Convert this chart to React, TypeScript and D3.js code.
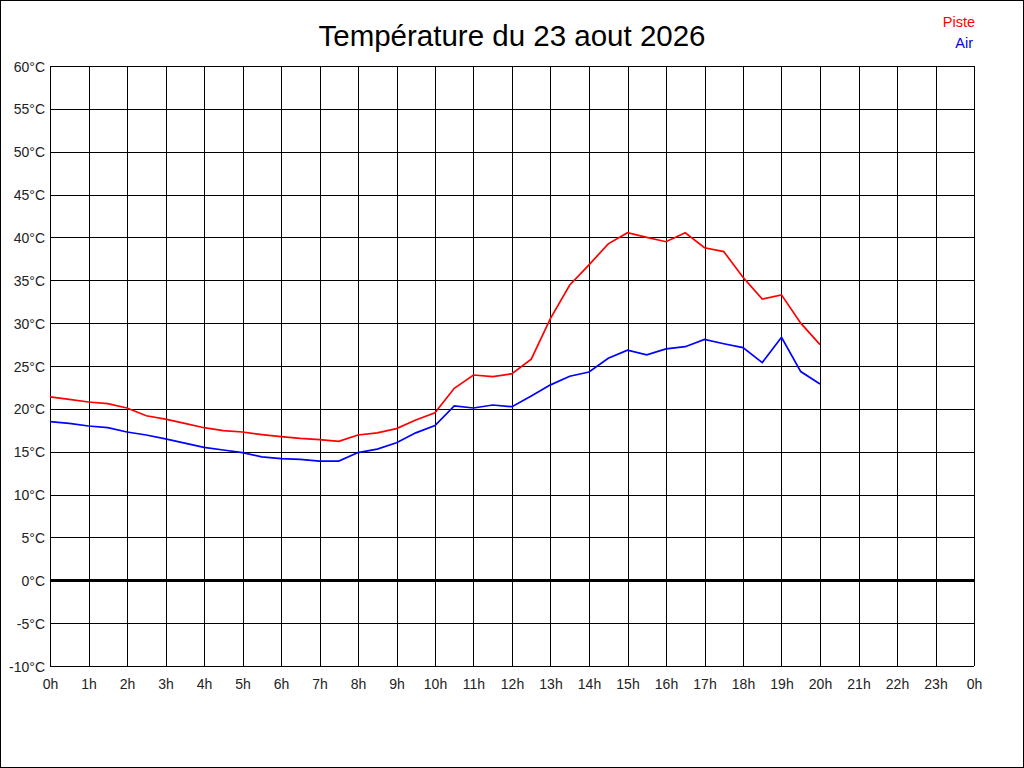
import { useEffect, useRef } from "react";
import * as d3 from "d3";

// half-hour samples from 0h to 20h
const hours = d3.range(0, 20.5, 0.5);

const piste = [
  21.4, 21.1, 20.8, 20.6, 20.1, 19.2, 18.8, 18.3, 17.8, 17.45, 17.3,
  17.0, 16.75, 16.55, 16.4, 16.2, 16.95, 17.2, 17.7, 18.7, 19.55,
  22.4, 23.95, 23.75, 24.1, 25.8, 30.55, 34.45, 36.8, 39.25, 40.55,
  40.0, 39.5, 40.55, 38.8, 38.35, 35.35, 32.8, 33.3, 30.0, 27.5,
];

const air = [
  18.5, 18.3, 18.0, 17.8, 17.3, 16.95, 16.5, 16.0, 15.5, 15.2, 14.9,
  14.4, 14.2, 14.1, 13.9, 13.9, 14.9, 15.3, 16.05, 17.2, 18.05,
  20.35, 20.1, 20.45, 20.25, 21.5, 22.8, 23.8, 24.3, 25.9, 26.85,
  26.3, 27.0, 27.25, 28.1, 27.6, 27.15, 25.4, 28.35, 24.35, 22.9,
];

const hourTicks = d3.range(0, 25, 1);
const tempTicks = d3.range(-10, 65, 5);

const series = [
  { name: "Piste", color: "#ff0000", values: piste },
  { name: "Air", color: "#0000ff", values: air },
];

const title = "Température du 23 aout 2026";

const W = 1024;
const H = 768;
const FONT = "'Liberation Sans', Arial, sans-serif";

export default function App() {
  const ref = useRef<SVGSVGElement | null>(null);

  useEffect(() => {
    if (!ref.current) return;
    const svg = d3.select(ref.current);
    svg.selectAll("*").remove();

    const x = d3.scaleLinear().domain([0, 24]).range([50, 974]);
    const y = d3.scaleLinear().domain([-10, 60]).range([666, 66]);

    svg
      .append("rect")
      .attr("x", 0.5)
      .attr("y", 0.5)
      .attr("width", W - 1)
      .attr("height", H - 1)
      .attr("fill", "#fff")
      .attr("stroke", "#000");

    // grid
    const grid = svg
      .append("g")
      .attr("stroke", "#000")
      .attr("stroke-width", 1)
      .attr("shape-rendering", "crispEdges");

    grid
      .selectAll("line.v")
      .data(hourTicks)
      .join("line")
      .attr("class", "v")
      .attr("x1", (d) => Math.round(x(d)) + 0.5)
      .attr("x2", (d) => Math.round(x(d)) + 0.5)
      .attr("y1", y(60))
      .attr("y2", y(-10));

    grid
      .selectAll("line.h")
      .data(tempTicks)
      .join("line")
      .attr("class", "h")
      .attr("x1", x(0))
      .attr("x2", x(24))
      .attr("y1", (d) => Math.round(y(d)) + 0.5)
      .attr("y2", (d) => Math.round(y(d)) + 0.5);

    // zero line
    svg
      .append("line")
      .attr("x1", x(0))
      .attr("x2", x(24))
      .attr("y1", y(0))
      .attr("y2", y(0))
      .attr("stroke", "#000")
      .attr("stroke-width", 3)
      .attr("shape-rendering", "crispEdges");

    // tick labels
    svg
      .append("g")
      .attr("font-family", FONT)
      .attr("font-size", 14)
      .attr("fill", "#222")
      .attr("text-anchor", "end")
      .selectAll("text")
      .data(tempTicks)
      .join("text")
      .attr("x", 45)
      .attr("y", (d) => y(d) + 5.5)
      .text((d) => `${d}°C`);

    svg
      .append("g")
      .attr("font-family", FONT)
      .attr("font-size", 14)
      .attr("fill", "#222")
      .attr("text-anchor", "middle")
      .selectAll("text")
      .data(hourTicks)
      .join("text")
      .attr("x", (d) => x(d) + 0.5)
      .attr("y", 689)
      .text((d) => `${d % 24}h`);

    // series
    const line = d3
      .line<number>()
      .x((_, i) => x(hours[i]))
      .y((d) => y(d));

    svg
      .append("g")
      .attr("fill", "none")
      .attr("stroke-width", 1.7)
      .selectAll("path")
      .data(series)
      .join("path")
      .attr("stroke", (d) => d.color)
      .attr("d", (d) => line(d.values));

    // title + legend
    svg
      .append("text")
      .attr("x", 512)
      .attr("y", 46)
      .attr("text-anchor", "middle")
      .attr("font-family", FONT)
      .attr("font-size", 29.5)
      .attr("fill", "#000")
      .text(title);

    svg
      .append("g")
      .attr("font-family", FONT)
      .attr("font-size", 14.5)
      .attr("text-anchor", "end")
      .selectAll("text")
      .data(series)
      .join("text")
      .attr("x", (_, i) => (i === 0 ? 975 : 973))
      .attr("y", (_, i) => 27 + i * 21)
      .attr("fill", (d) => d.color)
      .text((d) => d.name);

    return () => {
      svg.selectAll("*").remove();
    };
  }, []);

  return (
    <div style={{ position: "absolute", left: 0, top: 0 }}>
      <svg ref={ref} width={W} height={H} style={{ display: "block" }} />
    </div>
  );
}
